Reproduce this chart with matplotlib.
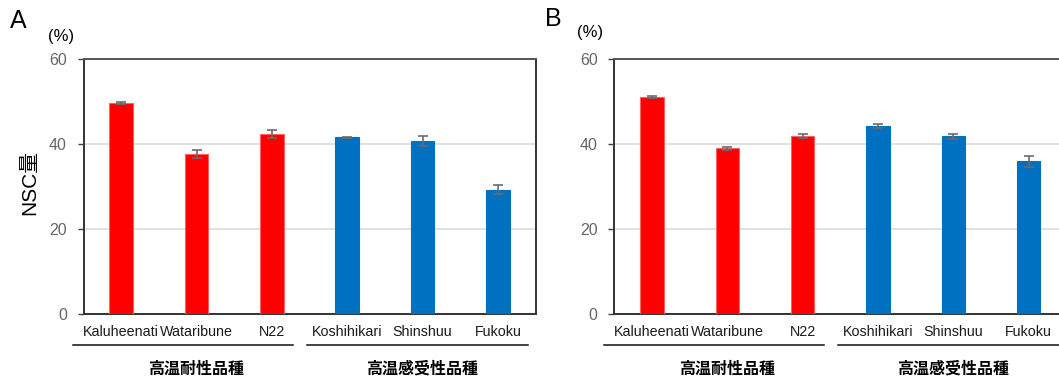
import matplotlib
matplotlib.use("Agg")
import matplotlib.pyplot as plt
from matplotlib.transforms import blended_transform_factory

plt.rcParams['font.family'] = ['Liberation Sans', 'Noto Sans CJK JP', 'DejaVu Sans']

varieties = ["Kaluheenati", "Wataribune", "N22", "Koshihikari", "Shinshuu", "Fukoku"]
groups = ["高温耐性品種", "高温感受性品種"]
bar_colors = ["#ff0000", "#ff0000", "#ff0000", "#0070c0", "#0070c0", "#0070c0"]

nsc_a = [49.6, 37.7, 42.3, 41.6, 40.7, 29.2]
err_a = [0.2, 0.9, 0.95, 0.15, 1.1, 1.05]
nsc_b = [51.0, 39.0, 41.9, 44.3, 41.8, 35.9]
err_b = [0.25, 0.3, 0.45, 0.45, 0.65, 1.25]

W, H = 1059, 378
fig = plt.figure(figsize=(W / 100, H / 100), dpi=100)


def px_axes(left, bottom_px, width, height):
    return fig.add_axes([left / W, (H - bottom_px) / H, width / W, height / H])


def draw_panel(ax, values, errors):
    x = list(range(len(varieties)))
    for xi, v, e, c in zip(x, values, errors, bar_colors):
        edge = "#ff6060" if c == "#ff0000" else c
        ax.bar(xi, v, width=0.31, color=c, edgecolor=edge, linewidth=0.8, zorder=3)
        ax.errorbar(xi, v, yerr=e, ecolor="#6b6b6b", elinewidth=1.2, capsize=3.5,
                    capthick=1.2, fmt="none", zorder=4)
    ax.set_xlim(-0.5, len(varieties) - 0.5)
    ax.set_ylim(0, 60)
    ax.set_yticks([0, 20, 40, 60])
    ax.yaxis.grid(True, color="#dcdcdc", linewidth=1.2, zorder=0)
    ax.set_axisbelow(True)
    ax.set_xticks(x)
    ax.set_xticklabels(varieties, fontsize=10.3, color="#1a1a1a")
    ax.tick_params(axis="x", length=0, pad=8)
    ax.tick_params(axis="y", length=4, width=1, color="#404040", labelsize=11.5,
                   labelcolor="#666666", pad=8)
    for s in ax.spines.values():
        s.set_color("#333333")
        s.set_linewidth(1.4)
    ax.spines["top"].set_color("#555555")

    tr = blended_transform_factory(ax.transData, ax.transAxes)
    spans = [(-0.64, 2.28), (2.47, 5.40)]
    centers = [1.0, 4.0]
    for (x0, x1), xc, g in zip(spans, centers, groups):
        ax.plot([x0, x1], [-0.122, -0.122], color="#111111", lw=1.1,
                transform=tr, clip_on=False)
        ax.text(xc, -0.215, g, transform=tr, ha="center", va="center",
                fontsize=11.5, fontweight="bold",
                family=["Noto Sans CJK JP", "DejaVu Sans"])


ax_a = px_axes(83.5, 314, 452, 255)
draw_panel(ax_a, nsc_a, err_a)
ax_b = px_axes(614.3, 314, 452, 255)
draw_panel(ax_b, nsc_b, err_b)

fig.text(10 / W, 1 - 21 / H, "A", fontsize=18, ha="left", va="center")
fig.text(545 / W, 1 - 19 / H, "B", fontsize=18, ha="left", va="center")
fig.text(61 / W, 1 - 36 / H, "(%)", fontsize=12, ha="center", va="center")
fig.text(590 / W, 1 - 32 / H, "(%)", fontsize=12, ha="center", va="center")
fig.text(30 / W, 1 - 182 / H, "NSC量", fontsize=15, rotation=90, ha="center",
         va="center", family=["Liberation Sans", "Noto Sans CJK JP"])

fig.savefig("out.png", dpi=100)
